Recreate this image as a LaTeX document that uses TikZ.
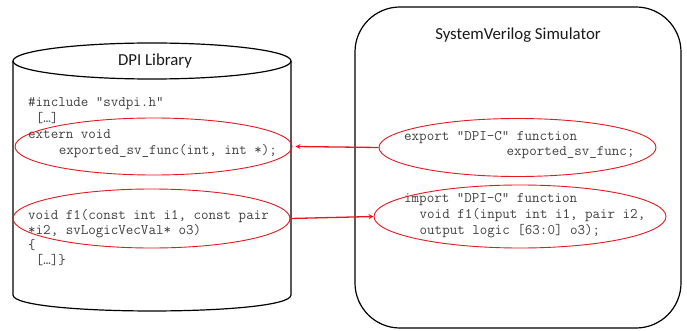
\documentclass[tikz,border=0pt]{standalone}
\usepackage{fontspec}
\setmainfont{Carlito}
\usetikzlibrary{shapes.geometric,arrows.meta}
\definecolor{hlred}{RGB}{232,24,30}
\definecolor{codegray}{RGB}{64,64,64}
\begin{document}
\begin{tikzpicture}[x=1pt,y=-1pt,
  code/.style={anchor=base west,inner sep=0pt,text=codegray,
    font=\ttfamily\fontsize{14.6}{15}\selectfont},
  title/.style={anchor=base,inner sep=0pt,text=black!90,
    font=\fontsize{16.8}{20}\selectfont},
  hl/.style={draw=hlred,ellipse,line width=0.9pt,inner sep=0pt},
  link/.style={draw=hlred,line width=1.3pt,-{Stealth[length=5pt,width=5pt]}},
  outline/.style={draw=black,line width=1.2pt}]
\useasboundingbox (0,0) rectangle (687,331);

% DPI library drawn as a cylinder
\draw[outline] (13,61) -- (13,295) .. controls (13,316.3) and (291,316.3) .. (291,295) -- (291,61);
\draw[outline] (152,61) ellipse[x radius=139,y radius=18];

% simulator block
\draw[outline,rounded corners=45pt] (355,7) rectangle (681,328);

\node[title] (libtitle) at (155,66) {DPI Library};
\node[title] (simtitle) at (518,40) {SystemVerilog Simulator};

% C side
\node[code] (c1) at (28,107) {\#include "svdpi.h"};
\node[code] (c2) at (35.7,123) {[…]};
\node[code] (c3) at (28,139) {extern void};
\node[code] (c4) at (58.7,155) {exported\_sv\_func(int, int *);};
\node[code] (c5) at (28,219) {void f1(const int i1, const pair};
\node[code] (c6) at (28,234) {*i2, svLogicVecVal* o3)};
\node[code] (c7) at (28,249) {\{};
\node[code] (c8) at (35.7,264) {[…]\}};

% SystemVerilog side
\node[code] (s1) at (404,141) {export "DPI-C" function};
\node[code] (s2) at (506.5,156) {exported\_sv\_func;};
\node[code] (s3) at (404,202) {import "DPI-C" function};
\node[code] (s4) at (419.5,218) {void f1(input int i1, pair i2,};
\node[code] (s5) at (419.5,234) {output logic [63:0] o3);};

% highlighted declarations
\node[hl,minimum width=277pt,minimum height=57pt] (lexp) at (153.5,146.5) {};
\node[hl,minimum width=277pt,minimum height=59pt] (limp) at (151.5,218.5) {};
\node[hl,minimum width=277pt,minimum height=58pt] (rexp) at (517.5,147.5) {};
\node[hl,minimum width=292pt,minimum height=63pt] (rimp) at (520,216.5) {};

\draw[link] (rexp.west) -- ([xshift=3pt]lexp.east);
\draw[link] (limp.east) -- (rimp.west);
\end{tikzpicture}
\end{document}
